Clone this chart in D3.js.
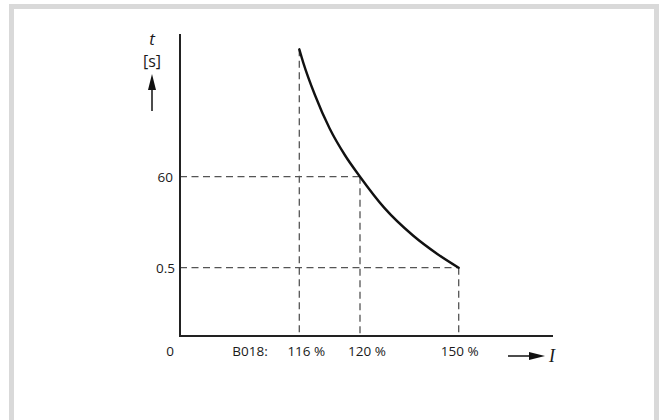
<!DOCTYPE html>
<html>
<head>
<meta charset="utf-8">
<script src="https://cdn.jsdelivr.net/npm/d3@7"></script>
<style>
  html, body { margin: 0; padding: 0; background: #ffffff; }
  svg { display: block; }
  text { font-family: "Open Sans", "Noto Sans", sans-serif; fill: #1a1a1a; }
</style>
</head>
<body>
<svg id="chart" width="660" height="420"></svg>
<script>
// ---- data (schematic tripping characteristic) ----
const currentTicks = [116, 120, 150];            // I in %
const currentLabels = ["116 %", "120 %", "150 %"];
const timeTicks = [60, 0.5];                       // t in s
const timeLabels = ["60", "0.5"];
const originLabel = "0";
const codeLabel = "B018:";
// curve points (current %, time s)
const curveI = [116, 116.26, 117.03, 118.0, 119.0, 120, 127.4, 136.2, 143.5, 150];
const curveT = [300, 275.1, 213.9, 150.8, 100.9, 60, 39.6, 21.4, 9.5, 0.5];
// dashed reference points (I, t) on the curve
const refI = [116, 120, 150];
const refT = [300, 60, 0.5];

const svg = d3.select("#chart");

// outer frame
svg.append("rect")
  .attr("x", 11.5).attr("y", 6.5).attr("width", 645).attr("height", 416)
  .attr("fill", "#fff").attr("stroke", "#d9d9d9").attr("stroke-width", 5);

// schematic (piecewise) scales
const x = d3.scaleLinear().domain([100, 116, 120, 150]).range([180, 299.3, 360, 458.7]);
const y = d3.scaleLinear().domain([0, 0.5, 60, 300]).range([336, 267.7, 176.7, 49.3]);

const x0 = x(100), y0 = y(0);

// dashed guides
const dashColor = "#555";
const g = svg.append("g");
refI.forEach((iv, k) => {
  const tv = refT[k];
  g.append("line")
    .attr("x1", x(iv)).attr("x2", x(iv))
    .attr("y1", y(tv)).attr("y2", y0)
    .attr("stroke", dashColor).attr("stroke-width", 1.3)
    .attr("stroke-dasharray", "7,4.5");
  if (tv <= 60) {
    g.append("line")
      .attr("x1", x0).attr("x2", x(iv))
      .attr("y1", y(tv)).attr("y2", y(tv))
      .attr("stroke", dashColor).attr("stroke-width", 1.3)
      .attr("stroke-dasharray", "7,4.5");
  }
});

// curve
const pts = curveI.map((v, k) => [v, curveT[k]]);
svg.append("path")
  .datum(pts)
  .attr("fill", "none").attr("stroke", "#111").attr("stroke-width", 2.4)
  .attr("stroke-linecap", "round")
  .attr("d", d3.line().x(d => x(d[0])).y(d => y(d[1])).curve(d3.curveMonotoneX));

// axes
svg.append("line").attr("x1", x0).attr("x2", x0).attr("y1", 34).attr("y2", y0 + 1)
  .attr("stroke", "#222").attr("stroke-width", 2);
svg.append("line").attr("x1", x0 - 1).attr("x2", 553).attr("y1", y0).attr("y2", y0)
  .attr("stroke", "#222").attr("stroke-width", 2);

// tick labels
const fs = 13.5;
svg.selectAll(".xl").data(currentTicks).enter().append("text")
  .attr("x", (d, k) => x(d) + (k < 2 ? 7 : 1))
  .attr("y", 356)
  .attr("text-anchor", "middle")
  .attr("font-size", fs)
  .text((d, k) => currentLabels[k]);
svg.append("text").attr("x", 170).attr("y", 356).attr("text-anchor", "middle")
  .attr("font-size", fs).text(originLabel);
svg.append("text").attr("x", 250).attr("y", 356).attr("text-anchor", "middle")
  .attr("font-size", fs).text(codeLabel);

svg.selectAll(".yl").data(timeTicks).enter().append("text")
  .attr("x", (d, k) => k === 0 ? 173 : 175)
  .attr("y", d => y(d))
  .attr("dy", "0.36em")
  .attr("text-anchor", "end")
  .attr("font-size", fs)
  .text((d, k) => timeLabels[k]);

// y-axis title with arrow
svg.append("text").attr("x", 152).attr("y", 45).attr("text-anchor", "middle")
  .attr("font-size", 17).attr("font-style", "italic").text("t");
svg.append("text").attr("x", 152).attr("y", 67).attr("text-anchor", "middle")
  .attr("font-size", 16).text("[s]");
svg.append("line").attr("x1", 152).attr("x2", 152).attr("y1", 111).attr("y2", 86)
  .attr("stroke", "#111").attr("stroke-width", 1.5);
svg.append("path").attr("d", "M152,74 L148,90 L156,90 Z").attr("fill", "#111");

// x-axis title with arrow
svg.append("line").attr("x1", 508).attr("x2", 532).attr("y1", 356).attr("y2", 356)
  .attr("stroke", "#111").attr("stroke-width", 1.5);
svg.append("path").attr("d", "M545,356 L529,352 L529,360 Z").attr("fill", "#111");
svg.append("text").attr("x", 552).attr("y", 362).attr("text-anchor", "middle")
  .style("font-family", "'Liberation Serif', serif")
  .attr("font-size", 18).attr("font-style", "italic").text("I");
</script>
</body>
</html>
